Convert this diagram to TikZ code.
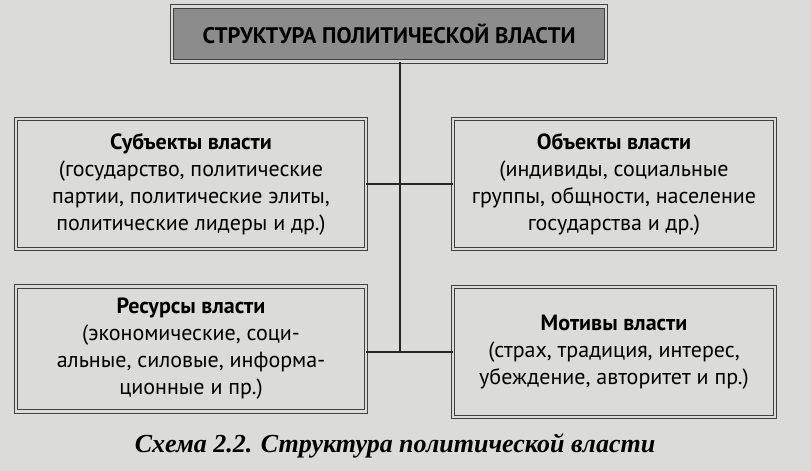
\documentclass[tikz,border=0pt]{standalone}
\usepackage{fontspec}
\setmainfont{PT Sans}
\newfontfamily\capfont{Liberation Serif}
\usetikzlibrary{positioning}
\definecolor{paper}{rgb}{0.86,0.86,0.85}
\definecolor{titlefill}{rgb}{0.55,0.55,0.55}
\tikzset{
  block/.style={draw=black!75, line width=0.8pt, double=paper, double distance=2.5pt,
    align=center, font=\fontsize{22}{27}\selectfont, inner sep=0pt},
  link/.style={line width=1.6pt, black!85}
}
\begin{document}
\begin{tikzpicture}[x=1pt,y=-1pt]
  \fill[paper] (0,0) rectangle (811,471);
  \useasboundingbox (0,0) rectangle (811,471);
  % top box
  \node[block, fill=titlefill, minimum width=434, minimum height=55, font=\bfseries\fontsize{22.5}{24}\selectfont] (title) at (389,34) {СТРУКТУРА ПОЛИТИЧЕСКОЙ ВЛАСТИ};
  % four boxes
  \node[block, minimum width=350, minimum height=130] (subj) at (191,184)
    {\textbf{Субъекты власти}\\(государство, политические\\партии, политические элиты,\\политические лидеры и др.)};
  \node[block, minimum width=322, minimum height=130] (obj) at (614,184)
    {\textbf{Объекты власти}\\(индивиды, социальные\\группы, общности, население\\государства и др.)};
  \node[block, minimum width=350, minimum height=125] (res) at (191,349)
    {\textbf{Ресурсы власти}\\(экономические, соци-\\альные, силовые, информа-\\ционные и пр.)};
  \node[block, minimum width=322, minimum height=130] (mot) at (614,352)
    {\textbf{Мотивы власти}\\(страх, традиция, интерес,\\убеждение, авторитет и пр.)};
  % connectors
  \coordinate (trunk) at (400,352);
  \draw[link] (title.south -| trunk) -- (trunk);
  \draw[link] (subj.east) -- (obj.west);
  \draw[link] (res.east |- trunk) -- (mot.west |- trunk);
  % caption
  \node[font=\capfont\bfseries\itshape\fontsize{26}{28}\selectfont] (caption) at (395,446)
    {Схема 2.2. Структура политической власти};
\end{tikzpicture}
\end{document}
